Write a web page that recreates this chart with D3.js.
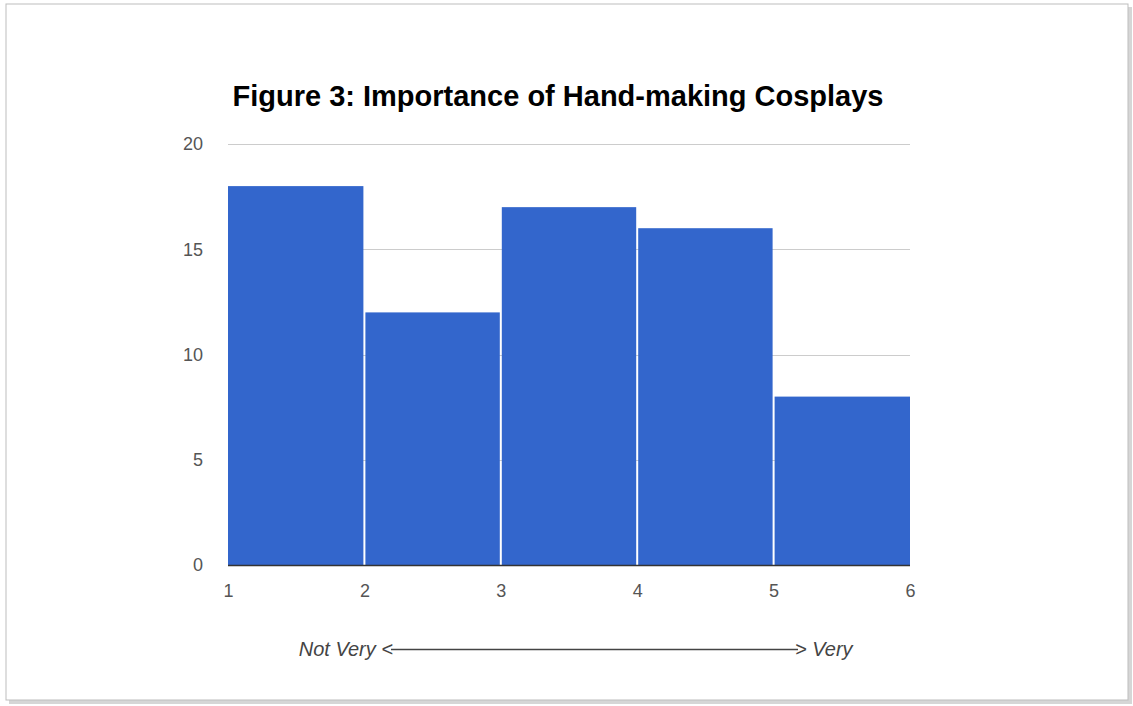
<!DOCTYPE html>
<html>
<head>
<meta charset="utf-8">
<script src="https://cdn.jsdelivr.net/npm/d3@7"></script>
<style>
  body { margin: 0; background: #fff; }
  svg { display: block; font-family: "Liberation Sans", Arial, sans-serif; }
</style>
</head>
<body>
<svg width="1133" height="706"></svg>
<script>
  (function(){
    'use strict';

    var WIDTH = 1133;
    var HEIGHT = 706;

    // histogram bins: [from, to]
    var binStarts = [1, 2, 3, 4, 5];
    var binEnds = [2, 3, 4, 5, 6];
    var counts = [18, 12, 17, 16, 8];
    var yTicks = [0, 5, 10, 15, 20];
    var xTicks = [1, 2, 3, 4, 5, 6];

    var padding = {
      top: 144,
      bottom: 141,
      left: 228,
      right: 223
    };

    var svg = d3.select('svg');

    // frame with a soft shadow
    svg.append('rect')
      .attr('x', 9).attr('y', 7)
      .attr('width', 1123).attr('height', 697)
      .attr('fill', '#d6d6d6');
    svg.append('rect')
      .attr('x', 6).attr('y', 4)
      .attr('width', 1122).attr('height', 696)
      .attr('fill', '#fff')
      .attr('stroke', '#bdbdbd')
      .attr('stroke-width', 1);

    var xScale = d3.scaleLinear()
      .domain([1, 6])
      .range([padding.left, WIDTH - padding.right]);

    var yScale = d3.scaleLinear()
      .domain([0, 20])
      .range([HEIGHT - padding.bottom, padding.top]);

    // gridlines
    svg.append('g')
      .selectAll('line')
      .data(yTicks.slice(1))
      .enter()
      .append('line')
      .attr('x1', xScale(1))
      .attr('x2', xScale(6))
      .attr('y1', function(d) { return Math.round(yScale(d)) + 0.5; })
      .attr('y2', function(d) { return Math.round(yScale(d)) + 0.5; })
      .attr('stroke', '#cccccc');

    var bins = binStarts.map(function(s, i) {
      return {from: s, to: binEnds[i], count: counts[i]};
    });

    svg.append('g')
      .selectAll('rect')
      .data(bins)
      .enter()
      .append('rect')
      .attr('x', function(d) { return xScale(d.from) + (d.from === 1 ? 0 : 1); })
      .attr('width', function(d) {
        return xScale(d.to) - xScale(d.from) - (d.from === 1 ? 1 : 2) + (d.to === 6 ? 1 : 0);
      })
      .attr('y', function(d) { return yScale(d.count); })
      .attr('height', function(d) { return yScale(0) - yScale(d.count); })
      .attr('fill', '#3366cc');

    // baseline
    svg.append('line')
      .attr('x1', xScale(1))
      .attr('x2', xScale(6))
      .attr('y1', yScale(0) + 0.5)
      .attr('y2', yScale(0) + 0.5)
      .attr('stroke', '#333')
      .attr('stroke-width', 1.5);

    // y axis labels
    var yAxis = d3.axisLeft(yScale)
      .tickValues(yTicks)
      .tickSize(0)
      .tickPadding(25);
    svg.append('g')
      .attr('class', 'axis')
      .attr('transform', 'translate(' + [padding.left, 0] + ')')
      .call(yAxis)
      .call(function(g) { g.select('.domain').remove(); })
      .selectAll('text')
      .attr('fill', '#555')
      .style('font-size', '18px')
      .style('font-family', '"Liberation Sans", Arial, sans-serif');

    // x axis labels
    var xAxis = d3.axisBottom(xScale)
      .tickValues(xTicks)
      .tickFormat(d3.format('d'))
      .tickSize(0)
      .tickPadding(19);
    svg.append('g')
      .attr('class', 'axis')
      .attr('transform', 'translate(' + [0, yScale(0)] + ')')
      .call(xAxis)
      .call(function(g) { g.select('.domain').remove(); })
      .selectAll('text')
      .attr('fill', '#555')
      .style('font-size', '18px')
      .style('font-family', '"Liberation Sans", Arial, sans-serif');

    // title
    svg.append('text')
      .attr('x', 558)
      .attr('y', 106)
      .attr('text-anchor', 'middle')
      .attr('font-size', '29px')
      .attr('font-weight', 'bold')
      .attr('fill', '#000')
      .text('Figure 3: Importance of Hand-making Cosplays');

    // axis title: Not Very <----> Very
    var titleY = 656;
    svg.append('text')
      .attr('x', 393)
      .attr('y', titleY)
      .attr('text-anchor', 'end')
      .attr('font-size', '20px')
      .attr('font-style', 'italic')
      .attr('fill', '#444')
      .text('Not Very <');
    svg.append('line')
      .attr('x1', 391)
      .attr('x2', 798)
      .attr('y1', 649.5)
      .attr('y2', 649.5)
      .attr('stroke', '#444')
      .attr('stroke-width', 1.3);
    svg.append('text')
      .attr('x', 795)
      .attr('y', titleY)
      .attr('font-size', '20px')
      .attr('font-style', 'italic')
      .attr('fill', '#444')
      .text('> Very');
  })();
</script>
</body>
</html>
